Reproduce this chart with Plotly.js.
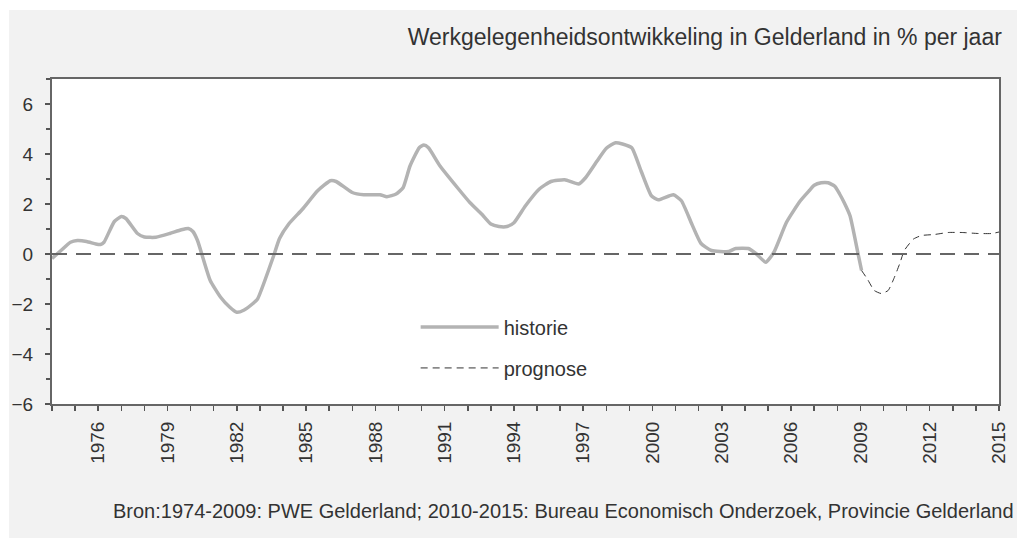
<!DOCTYPE html>
<html>
<head>
<meta charset="utf-8">
<script src="https://cdn.plot.ly/plotly-3.0.1.min.js"></script>
<style>
  html, body { margin: 0; padding: 0; background: #ffffff; }
  #chart { position: absolute; left: 9px; top: 10px; width: 1008px; height: 528px; }
</style>
</head>
<body>
<div id="chart"></div>
<script>
// historie (1974-2009)
const histYears = [1974.0,1974.4,1974.8,1975.1,1975.5,1975.9,1976.1,1976.25,1976.7,1977.0,1977.2,1977.7,1978.0,1978.5,1979.1,1979.6,1979.9,1980.1,1980.3,1980.55,1980.85,1981.3,1981.7,1982.0,1982.3,1982.7,1982.9,1983.2,1983.6,1983.85,1984.25,1984.85,1985.5,1986.05,1986.3,1987.0,1987.5,1988.2,1988.5,1988.9,1989.2,1989.5,1989.9,1990.1,1990.3,1990.8,1991.6,1992.1,1992.6,1993.0,1993.35,1993.7,1994.0,1994.5,1995.1,1995.6,1996.2,1996.8,1997.1,1997.6,1998.0,1998.4,1998.7,1999.1,1999.5,1999.95,2000.25,2000.9,2001.25,2001.7,2002.1,2002.55,2003.3,2003.6,2004.15,2004.5,2004.9,2005.25,2005.8,2006.4,2006.8,2007.0,2007.3,2007.6,2007.9,2008.1,2008.3,2008.55,2008.9,2009.05];
const histValues = [-0.18,0.15,0.47,0.54,0.5,0.4,0.38,0.47,1.3,1.5,1.42,0.82,0.68,0.67,0.82,0.97,1.02,0.9,0.54,-0.2,-1.06,-1.73,-2.13,-2.33,-2.25,-1.98,-1.8,-1.1,-0.06,0.62,1.2,1.8,2.53,2.93,2.9,2.46,2.37,2.37,2.29,2.4,2.65,3.52,4.25,4.36,4.25,3.52,2.6,2.05,1.6,1.2,1.1,1.1,1.25,1.93,2.6,2.9,2.97,2.8,3.05,3.72,4.23,4.45,4.4,4.25,3.33,2.33,2.17,2.37,2.13,1.2,0.42,0.14,0.1,0.22,0.22,0.0,-0.33,0.06,1.27,2.13,2.55,2.75,2.85,2.85,2.7,2.4,2.05,1.53,0.0,-0.66];

// prognose (2009-2015)
const progYears = [2009.05,2009.3,2009.6,2009.9,2010.2,2010.45,2010.7,2010.9,2011.3,2011.65,2012.2,2012.8,2013.4,2014.1,2014.7,2015.0];
const progValues = [-0.66,-1.0,-1.46,-1.58,-1.46,-0.98,-0.39,0.14,0.6,0.74,0.78,0.86,0.86,0.82,0.82,0.88];

const seriesNames = ['historie', 'prognose'];
const titleText = 'Werkgelegenheidsontwikkeling in Gelderland in % per jaar';
const sourceText = 'Bron:1974-2009: PWE Gelderland; 2010-2015: Bureau Economisch Onderzoek, Provincie Gelderland';
const yTickVals = [-6, -4, -2, 0, 2, 4, 6];
const xTickVals = [1976,1979,1982,1985,1988,1991,1994,1997,2000,2003,2006,2009,2012,2015];

const FONT = 'Liberation Sans, Arial, Helvetica, sans-serif';
const TXT = '#333333';

const traces = [
  {
    x: histYears, y: histValues, name: seriesNames[0], type: 'scatter', mode: 'lines',
    line: { color: '#b3b3b3', width: 3.5, shape: 'spline', smoothing: 0.5 },
    legend: 'legend', hoverinfo: 'skip'
  },
  {
    x: progYears, y: progValues, name: seriesNames[1], type: 'scatter', mode: 'lines',
    line: { color: '#333333', width: 1, dash: '7px,5px', shape: 'spline', smoothing: 0.5 },
    legend: 'legend2', hoverinfo: 'skip'
  }
];

const legendCommon = {
  xanchor: 'left', yanchor: 'middle', bgcolor: 'rgba(0,0,0,0)', borderwidth: 0,
  font: { family: FONT, size: 20, color: TXT }, itemwidth: 78
};

const layout = {
  width: 1008, height: 528,
  paper_bgcolor: '#f2f2f2', plot_bgcolor: '#ffffff',
  margin: { l: 43, r: 18, t: 69, b: 134 },
  showlegend: true,
  title: {
    text: titleText, xref: 'container', yref: 'container',
    x: 0.985, xanchor: 'right', y: 0.949, yanchor: 'middle',
    font: { family: FONT, size: 23, color: TXT }
  },
  xaxis: {
    range: [1974, 2015], tickvals: xTickVals, ticktext: xTickVals.map(String),
    tickangle: -90, ticks: 'outside', ticklen: 5, tickwidth: 1.5, tickcolor: '#555555',
    ticklabelstandoff: 3,
    minor: { dtick: 1, tick0: 1974, ticks: 'outside', ticklen: 5, tickwidth: 1.5, tickcolor: '#555555', showgrid: false },
    showline: true, linecolor: '#666666', linewidth: 2, mirror: true,
    showgrid: false, zeroline: false,
    tickfont: { family: FONT, size: 19, color: TXT }, fixedrange: true
  },
  yaxis: {
    range: [-6, 7], tickvals: yTickVals, ticks: 'outside', ticklen: 5, tickwidth: 1.5, tickcolor: '#555555',
    ticklabelstandoff: 8,
    minor: { dtick: 1, tick0: 0, ticks: 'outside', ticklen: 4, tickwidth: 1.5, tickcolor: '#555555', showgrid: false },
    showline: true, linecolor: '#666666', linewidth: 2, mirror: true,
    showgrid: false, zeroline: false,
    tickfont: { family: FONT, size: 19, color: TXT }, fixedrange: true
  },
  legend: Object.assign({ x: 0.384, y: 0.237 }, legendCommon),
  legend2: Object.assign({ x: 0.384, y: 0.111 }, legendCommon),
  shapes: [
    { type: 'line', xref: 'paper', x0: 0, x1: 1, yref: 'y', y0: 0, y1: 0,
      line: { color: '#666666', width: 2, dash: '15px,9px' }, layer: 'above' }
  ],
  annotations: [
    { text: sourceText, xref: 'paper', yref: 'paper', x: 1.018, xanchor: 'right', y: -0.329, yanchor: 'middle',
      showarrow: false, font: { family: FONT, size: 20, color: TXT } }
  ]
};

Plotly.newPlot('chart', traces, layout, { displayModeBar: false, staticPlot: true });
</script>
</body>
</html>
